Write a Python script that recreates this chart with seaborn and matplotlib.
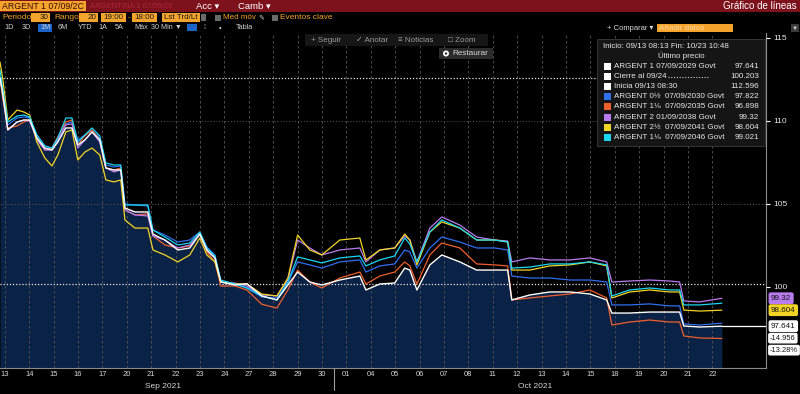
import pandas as pd
import matplotlib
matplotlib.use("Agg")
import matplotlib.pyplot as plt
from matplotlib.patches import Rectangle, Circle
from matplotlib.transforms import blended_transform_factory
import seaborn as sns


# ---- data ----
# t = trading-day index (0 = Sep 13 ... 29 = Oct 22), fractions are intraday
t = [-0.2, -0.08, 0.12, 0.5, 0.78, 1.02, 1.31, 1.64, 1.93, 2.17,
     2.5, 2.75, 2.99, 3.28, 3.57, 3.89, 4.14, 4.47, 4.75, 4.92,
     5.33, 5.86, 6.07, 6.56, 7.09, 7.58, 7.99, 8.28, 8.61, 8.85,
     9.43, 9.92, 10.53, 11.15, 11.6, 12.0, 12.5, 12.99, 13.73, 14.55,
     14.8, 15.37, 15.98, 16.39, 16.6, 16.89, 17.42, 17.91, 18.65, 19.34,
     20.08, 20.61, 20.78, 21.52, 22.34, 23.16, 23.98, 24.67, 24.88, 25.61,
     26.43, 27.25, 27.66, 27.83, 28.48, 29.39]

argent_2029 = [112.60, 111.57, 109.46, 109.94, 110.06, 110.06, 108.98, 108.37, 108.25, 108.73,
               109.58, 109.58, 108.55, 108.86, 109.34, 108.86, 107.17, 107.05, 107.05, 104.76,
               104.52, 104.52, 103.19, 102.83, 102.23, 102.35, 103.19, 102.23, 101.75, 100.30,
               100.12, 100.20, 99.46, 99.22, 100.12, 100.90, 100.30, 100.12, 100.42, 100.66,
               99.82, 100.18, 100.24, 101.14, 101.02, 99.82, 101.33, 101.93, 101.51, 101.02,
               101.02, 101.02, 99.22, 99.52, 99.70, 99.70, 99.58, 99.22, 98.43, 98.43,
               98.49, 98.49, 98.49, 97.65, 97.59, 97.641]

argent_2030 = [112.60, 111.57, 109.76, 110.18, 110.24, 110.18, 109.16, 108.49, 108.37, 108.98,
               109.82, 109.94, 108.86, 109.16, 109.46, 108.98, 107.35, 107.23, 107.29, 105.00,
               104.94, 104.88, 103.43, 103.13, 102.71, 102.83, 103.31, 102.41, 101.93, 100.30,
               100.18, 99.94, 99.40, 99.34, 100.24, 101.51, 101.33, 101.14, 101.51, 101.63,
               100.90, 101.27, 101.39, 102.23, 102.11, 101.14, 102.35, 103.01, 102.71, 102.35,
               102.35, 102.23, 100.66, 100.54, 100.54, 100.42, 100.42, 100.30, 98.92, 98.92,
               98.98, 98.86, 98.86, 97.77, 97.71, 97.822]

argent_2035 = [112.60, 111.27, 109.58, 109.70, 109.94, 110.06, 108.98, 108.25, 108.37, 109.04,
               109.94, 110.06, 108.55, 109.10, 109.46, 108.86, 107.17, 107.05, 107.17, 104.64,
               104.34, 104.40, 103.07, 102.53, 102.35, 102.47, 103.19, 102.11, 101.51, 100.06,
               100.06, 99.82, 98.96, 98.73, 99.82, 101.02, 100.30, 99.94, 100.54, 100.90,
               100.18, 100.66, 100.90, 101.51, 101.27, 100.18, 101.93, 102.65, 102.35, 101.39,
               101.33, 101.27, 99.22, 99.34, 99.46, 99.58, 99.82, 99.34, 97.71, 97.89,
               98.01, 97.89, 97.89, 97.05, 96.93, 96.898]

argent_2038 = [112.60, 111.57, 109.46, 109.94, 110.06, 110.00, 108.86, 108.25, 108.25, 108.86,
               109.76, 109.82, 108.37, 108.86, 109.34, 108.73, 107.17, 106.93, 107.05, 104.64,
               104.34, 104.28, 103.07, 102.83, 102.35, 102.53, 103.19, 102.23, 101.75, 100.30,
               100.24, 100.06, 99.52, 99.46, 100.42, 102.83, 102.35, 101.93, 102.23, 102.35,
               101.51, 102.23, 102.35, 103.07, 102.83, 101.51, 103.55, 104.22, 103.73, 103.01,
               102.83, 102.77, 101.51, 101.75, 101.63, 101.63, 101.75, 101.51, 100.30, 100.36,
               100.42, 100.36, 100.30, 99.16, 99.10, 99.32]

argent_2041 = [113.55, 112.47, 110.06, 110.66, 110.54, 110.36, 108.73, 107.77, 107.29, 107.95,
               109.34, 109.46, 107.65, 108.13, 108.37, 107.95, 106.45, 106.33, 106.45, 104.04,
               103.55, 103.55, 102.23, 101.93, 101.51, 101.93, 102.95, 101.93, 101.51, 100.30,
               100.18, 100.18, 99.58, 99.46, 100.54, 103.13, 102.23, 101.93, 102.83, 102.95,
               101.63, 102.23, 102.35, 103.19, 102.83, 101.33, 103.31, 103.92, 103.55, 102.83,
               102.83, 102.71, 101.02, 101.02, 101.27, 101.33, 101.51, 101.27, 99.34, 99.70,
               99.82, 99.70, 99.70, 98.61, 98.55, 98.604]

argent_2046 = [113.07, 111.87, 109.94, 110.30, 110.36, 110.24, 109.16, 108.49, 108.37, 108.98,
               110.18, 110.18, 108.73, 109.16, 109.58, 109.10, 107.47, 107.35, 107.35, 104.94,
               104.94, 104.94, 103.43, 103.01, 102.53, 102.65, 103.31, 102.35, 101.87, 100.42,
               100.18, 99.94, 99.46, 99.22, 100.30, 101.81, 101.63, 101.45, 101.75, 101.87,
               101.27, 101.63, 101.87, 102.95, 102.59, 101.51, 103.31, 104.04, 103.55, 102.83,
               102.83, 102.71, 101.14, 101.20, 101.39, 101.39, 101.51, 101.33, 99.46, 99.82,
               99.94, 99.82, 99.82, 98.92, 98.92, 99.021]

main_name = "ARGENT 1 07/09/2029 Govt"
bond_names = ["ARGENT 0½  07/09/2030 Govt", "ARGENT 1⅛  07/09/2035 Govt",
              "ARGENT 2 01/09/2038 Govt", "ARGENT 2½  07/09/2041 Govt",
              "ARGENT 1⅛  07/09/2046 Govt"]
bond_series = [argent_2030, argent_2035, argent_2038, argent_2041, argent_2046]
bond_colors = ["#2f6ff0", "#f0602c", "#b87cf0", "#f2d424", "#1ad6f2"]

day_labels = ["13", "14", "15", "16", "17", "20", "21", "22", "23", "24",
              "27", "28", "29", "30", "01", "04", "05", "06", "07", "08",
              "11", "12", "13", "14", "15", "18", "19", "20", "21", "22"]
month_labels = ["Sep 2021", "Oct 2021"]
month_pos = [6.5, 21.75]
y_ticks = [100, 105, 110, 115]

inicio_level = 112.596
cierre_level = 100.203
change_abs = -14.956
change_pct = -13.28


def fmt(v):
    s = f"{v:.3f}".rstrip("0")
    return s.rstrip(".")


sns.set_style("dark")
plt.rcParams["font.family"] = ["Liberation Sans", "DejaVu Sans"]

W, H = 800, 394
ORANGE = "#f4a32c"
fig = plt.figure(figsize=(8, 3.94), dpi=100, facecolor="black")

# ---- main chart ----
ax = fig.add_axes([0, 26 / H, 766 / W, 335 / H], zorder=1)
ax.set_facecolor("black")

ax.fill_between(t, argent_2029, 90, color="#0b2247", zorder=1, linewidth=0)

df = pd.DataFrame({"t": t, **dict(zip(bond_names, bond_series))})
df = df.melt(id_vars="t", var_name="bono", value_name="precio")
sns.lineplot(data=df, x="t", y="precio", hue="bono", hue_order=bond_names,
             palette=dict(zip(bond_names, bond_colors)), estimator=None,
             linewidth=0.9, legend=False, ax=ax, zorder=3)
sns.lineplot(x=t, y=argent_2029, color="white", linewidth=1.0,
             estimator=None, ax=ax, zorder=4)

# last-value guide from data end to the axis
ax.plot([t[-1], 31.2], [argent_2029[-1]] * 2, color="white", lw=0.9, zorder=4)

for lvl in (105, 110):
    ax.axhline(lvl, color="#5a5a5a", ls=(0, (1, 2)), lw=0.7, zorder=2)
for lvl in (inicio_level, cierre_level):
    ax.axhline(lvl, color="#e8e8e8", ls=(0, (1, 1.5)), lw=0.9, zorder=2.6)

ax.set_xlim(-0.2, 31.2)
ax.set_ylim(95.12, 115.3)
ax.set_xticks(range(len(day_labels)))
ax.set_xticklabels(day_labels)
ax.yaxis.tick_right()
ax.set_yticks(y_ticks)
ax.set_xlabel("")
ax.set_ylabel("")
ax.grid(axis="x", color="#585858", linestyle=(0, (3, 3)), linewidth=0.6)
ax.grid(axis="y", visible=False)
ax.set_axisbelow(False)
ax.tick_params(axis="x", length=0, pad=2.5, labelcolor="#d6d6d6", labelsize=5.5)
ax.tick_params(axis="y", length=3, width=0.8, color="white", pad=2,
               labelcolor="#e6e6e6", labelsize=6)
for side in ("left", "top"):
    ax.spines[side].set_visible(False)
for side in ("right", "bottom"):
    ax.spines[side].set_color("#8a8a8a")
    ax.spines[side].set_linewidth(0.8)

below = blended_transform_factory(ax.transData, ax.transAxes)
for pos, lab in zip(month_pos, month_labels):
    ax.text(pos, -0.055, lab, transform=below, ha="center", va="center",
            color="#d6d6d6", fontsize=6)
ax.plot([13.5, 13.5], [0, -0.066], transform=below, color="#9a9a9a",
        lw=0.8, clip_on=False)

# price tags on the right axis
side = blended_transform_factory(ax.transAxes, ax.transData)
tags = [(argent_2038[-1], bond_colors[2]), (argent_2041[-1], bond_colors[3]),
        (argent_2029[-1], "white")]
for val, col in tags:
    ax.annotate(fmt(val), xy=(1, val), xycoords=side, xytext=(5, 0),
                textcoords="offset pixels", ha="left", va="center", fontsize=5.8,
                color="#111111", annotation_clip=False,
                bbox=dict(boxstyle="round,pad=0.3,rounding_size=0.25", fc=col, ec="none"))
for k, s in enumerate([f"{change_abs:.3f}", f"{change_pct:.2f}%"]):
    ax.annotate(s, xy=(1, argent_2029[-1]), xycoords=side, xytext=(4, -12 * (k + 1)),
                textcoords="offset pixels", ha="left", va="center", fontsize=5.4,
                color="#111111", annotation_clip=False,
                bbox=dict(boxstyle="round,pad=0.25,rounding_size=0.25", fc="white", ec="none"))

# ---- terminal chrome (pixel coordinates) ----
ui = fig.add_axes([0, 0, 1, 1], zorder=5)
ui.set_xlim(0, W)
ui.set_ylim(H, 0)
ui.axis("off")
ui.patch.set_alpha(0)


def box(x0, y0, x1, y1, color, **kw):
    ui.add_patch(Rectangle((x0, y0), x1 - x0, y1 - y0, facecolor=color,
                           edgecolor=kw.pop("ec", "none"), **kw))


def label(x, y, s, color, size=6, **kw):
    ui.text(x, y, s, color=color, fontsize=size, va="center", **kw)


# title bar
box(0, 0, W, 11.5, "#7d121d")
box(0, 1, 86, 11, ORANGE)
label(1.5, 6.2, "ARGENT 1 07/09/2C", "#3a0808", 6.3)
label(90, 6.2, "ARGENTINA 1 07/09/29", "#a8283a", 5.5)
label(196, 6.2, "Acc ▾", "white", 6.8)
label(238, 6.2, "Camb ▾", "white", 6.8)
label(797, 6.2, "Gráfico de líneas", "white", 7, ha="right")

# row 2
label(2, 17.5, "Periodo", ORANGE)
for x0, x1, s, ha in [(31, 50, "30", "right"), (79, 98, "20", "right"),
                      (101, 126, "19:00", "center"), (132, 157, "18:00", "center"),
                      (162, 200, "Lst Trd/Lt", "center")]:
    box(x0, 13, x1, 22, ORANGE)
    tx = x1 - 1.5 if ha == "right" else (x0 + x1) / 2
    label(tx, 17.5, s, "#1a1a1a", 5.8, ha=ha)
label(54, 17.5, "Rango", ORANGE)
label(127.5, 17.5, "-", ORANGE)
box(201, 14, 206, 21, "#6a6a6a")
box(215, 15, 221, 20.5, "#6a6a6a")
label(223, 17.5, "Med móv", ORANGE, 5.8)
label(258, 17.5, "✎", "#d0d0d0", 5)
box(272, 15, 278, 20.5, "#6a6a6a")
label(280, 17.5, "Eventos clave", ORANGE)

# row 3
box(38, 23.5, 52, 31.5, "#1c64c8")
for x, s in [(4, "1D"), (22, "3D"), (40, "1M"), (58, "6M"), (78, "YTD"), (98, "1A"),
             (115, "5A"), (134, "Máx"), (151, "30 Min ▼"), (203, "⁞"), (219, "▪"),
             (236, "Tabla")]:
    label(x, 27.6, s, "#d0d0d0", 5.2)
box(187, 24, 197, 31, "#1c64c8")
label(607, 28, "+ Comparar ▾", "#d8d8d8", 5.5)
box(657, 24, 733, 32, ORANGE)
label(659, 28, "Añadir datos", "#ffd9a0", 5.8)
box(791, 24, 799, 32, "#3a3a3a")
label(795, 28, "▼", "#d0d0d0", 4.5, ha="center")

# chart toolbar
box(305, 34, 488, 46, "#161616")
for x, s in [(311, "+ Seguir"), (356, "✓ Anotar"), (398, "≡ Noticias"), (448, "□ Zoom")]:
    label(x, 40, s, "#9a9a9a", 5.8)
box(439, 48, 493, 59, "#2b2b2b")
ui.add_patch(Circle((446, 53.5), 3, facecolor="white", edgecolor="none"))
ui.add_patch(Circle((446, 53.5), 1.2, facecolor="#2b2b2b", edgecolor="none"))
label(452, 53.7, "Restaurar", "#d8d8d8", 5.9)

# legend panel
box(597, 39, 765, 146, "#151515", ec="#3c3c3c", lw=0.6)
label(603, 46, "Inicio: 09/13 08:13 Fin: 10/23 10:48", "#e8e8e8", 5.8)
label(681, 56, "Último precio", "#e8e8e8", 5.8, ha="center")
rows = ([(main_name, "white", argent_2029[-1]),
         ("Cierre al 09/24", "white", cierre_level),
         ("Inicia 09/13 08:30", "white", inicio_level)]
        + list(zip(bond_names, bond_colors, [s[-1] for s in bond_series])))
for i, (name, col, val) in enumerate(rows):
    y = 66.5 + 10.1 * i
    box(604, y - 3.5, 611, y + 3.5, col)
    label(614, y, name, "#e8e8e8", 5.8)
    label(759, y, fmt(val), "#e8e8e8", 5.8, ha="right")
ui.plot([668, 708], [77, 77], color="#cfcfcf", ls=(0, (1, 1.5)), lw=0.8)

fig.savefig("out.png", dpi=100, facecolor="black")
